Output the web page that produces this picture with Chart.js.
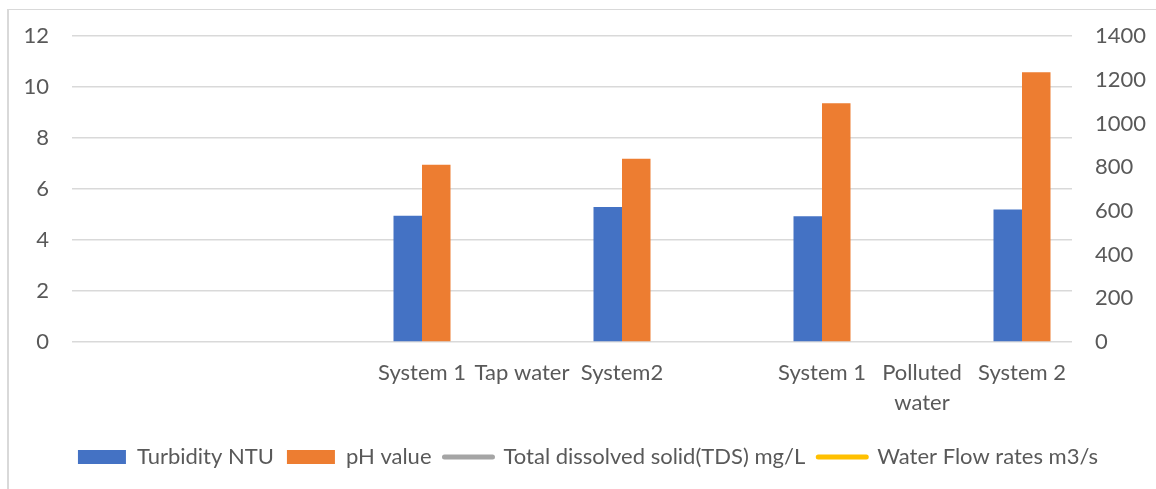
<!DOCTYPE html>
<html>
<head>
<meta charset="utf-8">
<script src="https://cdn.jsdelivr.net/npm/chart.js@4.4.1/dist/chart.umd.min.js"></script>
<style>
  html, body { margin: 0; padding: 0; background: #fff; overflow: hidden; }
  #frame {
    position: absolute; left: 7px; top: 9px; width: 1300px; height: 600px;
    border-left: 2px solid #d9d9d9; border-top: 1px solid #d9d9d9;
  }
  #wrap { position: absolute; left: 0; top: 0; width: 1156px; height: 489px; }
</style>
</head>
<body>
<div id="frame"></div>
<div id="wrap"><canvas id="c" width="1156" height="489"></canvas></div>
<script>
// Water quality comparison: tap water vs polluted water, two systems each
const categories = ['', '', '', 'System 1', 'Tap water', 'System2', '', 'System 1', ['Polluted', 'water'], 'System 2'];
const turbidityNTU = [null, null, null, 4.95, null, 5.3, null, 4.93, null, 5.2];
const phValue = [null, null, null, 6.96, null, 7.19, null, 9.37, null, 10.59];
const tdsMgL = [null, null, null, null, null, null, null, null, null, null];
const flowRates = [null, null, null, null, null, null, null, null, null, null];
const leftTicks = [0, 2, 4, 6, 8, 10, 12];
const rightTicks = [0, 200, 400, 600, 800, 1000, 1200, 1400];

const FONT = 'Lato';
const TEXT = '#595959';
const GRID = '#d9d9d9';

new Chart(document.getElementById('c'), {
  type: 'bar',
  data: {
    labels: categories,
    datasets: [
      { label: 'Turbidity NTU', data: turbidityNTU, backgroundColor: '#4472C4', yAxisID: 'y', order: 2 },
      { label: 'pH value', data: phValue, backgroundColor: '#ED7D31', yAxisID: 'y', order: 2 },
      { type: 'line', label: 'Total dissolved solid(TDS) mg/L', data: tdsMgL, borderColor: '#A5A5A5', backgroundColor: '#A5A5A5', borderWidth: 3, pointRadius: 0, yAxisID: 'y1', order: 1 },
      { type: 'line', label: 'Water Flow rates m3/s', data: flowRates, borderColor: '#FFC000', backgroundColor: '#FFC000', borderWidth: 3, pointRadius: 0, yAxisID: 'y1', order: 1 }
    ]
  },
  options: {
    responsive: false,
    animation: false,
    events: [],
    layout: { padding: { top: 32, bottom: 11, left: 20, right: 0 } },
    datasets: { bar: { categoryPercentage: 0.57, barPercentage: 1.0 } },
    scales: {
      x: {
        afterFit: s => { s.height = 91; },
        grid: { display: false, drawTicks: false },
        border: { display: false },
        ticks: { autoSkip: false, maxRotation: 0, minRotation: 0, padding: 16, color: TEXT,
                 font: { family: FONT, size: 22, lineHeight: 1.36 } }
      },
      y: {
        position: 'left', min: 0, max: 12,
        afterBuildTicks: s => { s.ticks = leftTicks.map(v => ({ value: v })); },
        afterFit: s => { s.width = 52; },
        grid: { color: GRID, lineWidth: 1.5, drawTicks: false },
        border: { display: false },
        ticks: { padding: 23, color: TEXT, font: { family: FONT, size: 22 } }
      },
      y1: {
        position: 'right', min: 0, max: 1400,
        afterBuildTicks: s => { s.ticks = rightTicks.map(v => ({ value: v })); },
        afterFit: s => { s.width = 84; },
        grid: { display: false, drawTicks: false },
        border: { display: false },
        ticks: { padding: 23, color: TEXT, font: { family: FONT, size: 22 }, callback: v => String(v) }
      }
    },
    plugins: {
      tooltip: { enabled: false },
      legend: {
        position: 'bottom',
        labels: {
          usePointStyle: true,
          pointStyleWidth: 48,
          boxHeight: 14,
          padding: 13,
          color: TEXT,
          font: { family: FONT, size: 22 },
          generateLabels: chart => chart.data.datasets.map((ds, i) => {
            const isLine = ds.type === 'line';
            return {
              text: ds.label,
              fillStyle: isLine ? ds.borderColor : ds.backgroundColor,
              strokeStyle: isLine ? ds.borderColor : ds.backgroundColor,
              lineWidth: isLine ? 5 : 0,
              lineCap: 'round',
              pointStyle: isLine ? 'line' : 'rect',
              fontColor: TEXT,
              hidden: false,
              datasetIndex: i
            };
          })
        }
      }
    }
  }
});
</script>
</body>
</html>
